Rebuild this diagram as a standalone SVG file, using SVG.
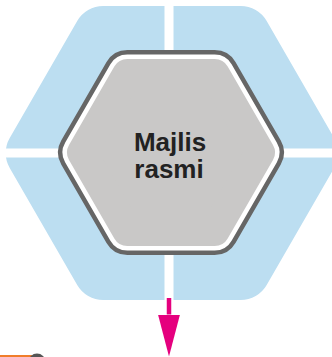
<svg xmlns="http://www.w3.org/2000/svg" width="332" height="357" viewBox="0 0 332 357">
  <defs>
    <style>
      .blue { fill: #bcdef1; stroke: #bcdef1; stroke-width: 60; stroke-linejoin: round; }
      .gap { fill: #ffffff; }
      .ring-dark { fill: #666666; stroke: #666666; stroke-width: 48; stroke-linejoin: round; }
      .ring-white { fill: #ffffff; stroke: #ffffff; stroke-width: 39; stroke-linejoin: round; }
      .core { fill: #c9c8c7; stroke: #c9c8c7; stroke-width: 30; stroke-linejoin: round; }
      .label { font-family: "Liberation Sans", Arial, sans-serif; font-weight: bold; font-size: 26px; fill: #222222; text-anchor: middle; }
      .conn { stroke: #e5007e; stroke-width: 4.5; fill: none; }
    </style>
    <marker id="arrow" viewBox="0 0 42 22" markerWidth="42" markerHeight="22" refX="0" refY="11" orient="auto" markerUnits="userSpaceOnUse">
      <path d="M0,0 L42,11 L0,22 Z" fill="#e5007e"/>
    </marker>
  </defs>

  <g id="background">
    <polygon class="blue" points="35.7,153 103.2,36 240.7,36 308.2,153 240.7,270 103.2,270"/>
    <rect class="gap" x="164.5" y="0" width="9" height="302"/>
    <rect class="gap" x="0" y="148.5" width="332" height="9"/>
  </g>

  <g id="connectors">
    <line class="conn" x1="169" y1="298" x2="169" y2="314.5" marker-end="url(#arrow)"/>
  </g>

  <g id="node-majlis-rasmi">
    <polygon class="ring-dark" points="82,152.5 127.3,74 214.7,74 260,152.5 214.7,231 127.3,231"/>
    <polygon class="ring-white" points="82,152.5 127.3,74 214.7,74 260,152.5 214.7,231 127.3,231"/>
    <polygon class="core" points="82,152.5 127.3,74 214.7,74 260,152.5 214.7,231 127.3,231"/>
    <text class="label" x="170" y="150.5">Majlis</text>
    <text class="label" x="169" y="178.3">rasmi</text>
  </g>

  <g id="partial-next">
    <rect x="0" y="355" width="32" height="3" fill="#f07d2a"/>
    <circle cx="37" cy="362" r="8.5" fill="#555555"/>
  </g>
</svg>
